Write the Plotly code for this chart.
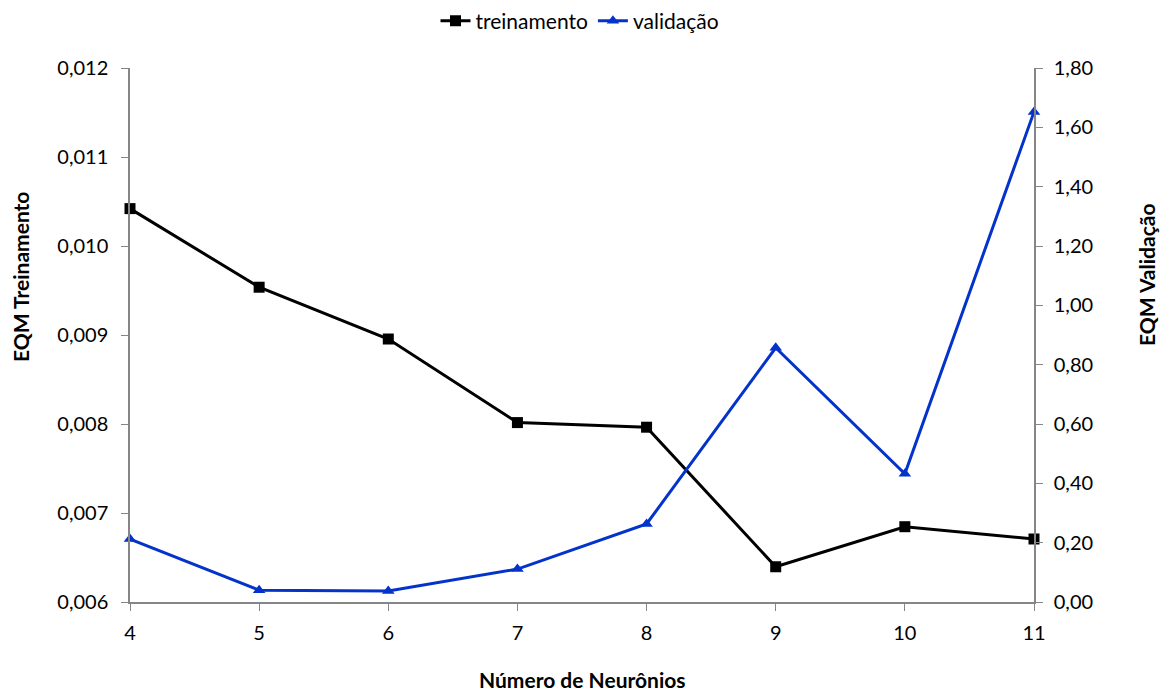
import plotly.graph_objects as go

# Número de neurônios na camada oculta
neurons = [4, 5, 6, 7, 8, 9, 10, 11]

# Erro quadrático médio por configuração
eqm_treinamento = [0.01042, 0.009537, 0.008955, 0.008016, 0.007964, 0.006396, 0.006846, 0.006708]
eqm_validacao = [0.212, 0.040, 0.037, 0.111, 0.263, 0.857, 0.432, 1.652]

left_ticks = [0.006, 0.007, 0.008, 0.009, 0.010, 0.011, 0.012]
right_ticks = [0.0, 0.2, 0.4, 0.6, 0.8, 1.0, 1.2, 1.4, 1.6, 1.8]

FONT = "Lato, 'Open Sans', sans-serif"
AXIS_GREY = "#868686"
BLUE = "#0433CC"

fig = go.Figure()

fig.add_trace(go.Scatter(
    x=neurons, y=eqm_treinamento, name="treinamento",
    mode="lines+markers",
    line=dict(color="black", width=3),
    marker=dict(symbol="square", size=11, color="black"),
    yaxis="y", cliponaxis=False,
))

fig.add_trace(go.Scatter(
    x=neurons, y=eqm_validacao, name="validação",
    mode="lines+markers",
    line=dict(color=BLUE, width=3),
    marker=dict(symbol="triangle-up", size=11, color=BLUE),
    yaxis="y2", cliponaxis=False,
))

W, H = 1160, 691
L, R, T, B = 130, 126, 68, 89
pw, ph = W - L - R, H - T - B

def px_x(px):
    return (px - L) / pw

def px_y(py):
    return (H - B - py) / ph

TICK_SIZE = 20
TITLE_SIZE = 21

fig.update_layout(
    width=W, height=H,
    margin=dict(l=L, r=R, t=T, b=B, autoexpand=False),
    paper_bgcolor="white", plot_bgcolor="white",
    separators=",.",
    font=dict(family=FONT, size=TICK_SIZE, color="black"),
    showlegend=True,
    legend=dict(
        orientation="h", x=px_x(580), xanchor="center",
        y=px_y(21), yanchor="middle",
        font=dict(family=FONT, size=21),
        itemwidth=30, tracegroupgap=0,
    ),
    xaxis=dict(
        range=[4, 11], tickmode="array", tickvals=neurons,
        ticks="outside", ticklen=7, tickcolor=AXIS_GREY,
        ticklabelstandoff=5,
        showline=True, linecolor=AXIS_GREY, linewidth=1.5,
        showgrid=False, zeroline=False,
        tickfont=dict(size=TICK_SIZE),
    ),
    yaxis=dict(
        range=[0.006, 0.012], tickmode="array", tickvals=left_ticks,
        tickformat=".3f",
        ticks="outside", ticklen=7, tickcolor=AXIS_GREY,
        ticklabelstandoff=9,
        showline=True, linecolor=AXIS_GREY, linewidth=1.5,
        showgrid=False, zeroline=False,
        tickfont=dict(size=TICK_SIZE),
    ),
    yaxis2=dict(
        range=[0, 1.8], tickmode="array", tickvals=right_ticks,
        tickformat=".2f", overlaying="y", side="right",
        ticks="outside", ticklen=7, tickcolor=AXIS_GREY,
        ticklabelstandoff=7,
        showline=True, linecolor=AXIS_GREY, linewidth=1.5,
        showgrid=False, zeroline=False,
        tickfont=dict(size=TICK_SIZE),
    ),
    annotations=[
        dict(text="<b>Número de Neurônios</b>", xref="paper", yref="paper",
             x=px_x(582), y=px_y(679), xanchor="center", yanchor="middle",
             showarrow=False, font=dict(family=FONT, size=TITLE_SIZE)),
        dict(text="<b>EQM Treinamento</b>", xref="paper", yref="paper",
             x=px_x(20), y=px_y(277), xanchor="center", yanchor="middle",
             textangle=-90, showarrow=False, font=dict(family=FONT, size=TITLE_SIZE)),
        dict(text="<b>EQM Validação</b>", xref="paper", yref="paper",
             x=px_x(1146), y=px_y(275), xanchor="center", yanchor="middle",
             textangle=-90, showarrow=False, font=dict(family=FONT, size=TITLE_SIZE)),
    ],
)

fig.write_html("out.html")
